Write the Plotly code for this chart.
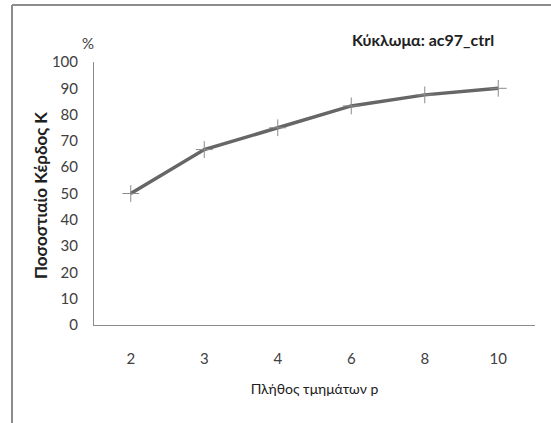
import plotly.graph_objects as go

# Number of partitions p and percentage gain K
partitions = ["2", "3", "4", "6", "8", "10"]
gain_pct = [50.0, 66.7, 75.0, 83.3, 87.5, 90.0]
y_ticks = [0, 10, 20, 30, 40, 50, 60, 70, 80, 90, 100]

FONT = "Lato, DejaVu Sans Condensed, sans-serif"
TXT = "#404040"

W, H = 551, 423
ML, MR, MT, MB = 94, 16, 62, 98
pw, ph = W - ML - MR, H - MT - MB


def px(x):
    return (x - ML) / pw


def py(y):
    return (H - MB - y) / ph


fig = go.Figure()
fig.add_trace(go.Scatter(
    x=partitions, y=gain_pct, mode="lines+markers",
    line=dict(color="#666666", width=3.5),
    marker=dict(symbol="cross-thin", size=12, color="#8a8a8a",
                line=dict(color="#8a8a8a", width=1)),
    showlegend=False, cliponaxis=False,
))

fig.update_layout(
    width=W, height=H,
    margin=dict(l=ML, r=MR, t=MT, b=MB),
    paper_bgcolor="white", plot_bgcolor="white",
    font=dict(family=FONT, color=TXT, size=15),
    xaxis=dict(
        type="category", range=[-0.5, 5.5],
        showline=True, linecolor="#8c8c8c", linewidth=1,
        showgrid=False, zeroline=False, ticks="",
        ticklabelstandoff=20,
        tickfont=dict(family=FONT, size=15, color=TXT),
        title=dict(text="Πλήθος τμημάτων p", standoff=18,
                   font=dict(family=FONT, size=14, color="#202020")),
    ),
    yaxis=dict(
        range=[0, 100], tickvals=y_ticks,
        showline=True, linecolor="#8c8c8c", linewidth=1,
        showgrid=False, zeroline=False, ticks="",
        ticklabelstandoff=12,
        tickfont=dict(family=FONT, size=15, color=TXT),
    ),
    annotations=[
        dict(text="<b>Ποσοστιαίο Κέρδος Κ</b>", xref="paper", yref="paper",
             x=px(40), y=py(196), xanchor="center", yanchor="middle",
             textangle=-90, showarrow=False,
             font=dict(family=FONT, size=17, color="#202020")),
        dict(text="<b>Κύκλωμα: ac97_ctrl</b>", xref="paper", yref="paper",
             x=px(496), y=py(40), xanchor="right", yanchor="middle",
             showarrow=False, font=dict(family=FONT, size=16, color="#202020")),
        dict(text="%", xref="paper", yref="paper",
             x=px(88), y=py(43), xanchor="center", yanchor="middle",
             showarrow=False, font=dict(family=FONT, size=15, color=TXT)),
    ],
    shapes=[
        dict(type="line", xref="paper", yref="paper",
             x0=px(12), x1=px(12), y0=py(5), y1=py(430),
             line=dict(color="#8c8c8c", width=2)),
        dict(type="line", xref="paper", yref="paper",
             x0=px(12), x1=px(560), y0=py(5), y1=py(5),
             line=dict(color="#8c8c8c", width=2)),
    ],
)

fig.write_html("out.html")
